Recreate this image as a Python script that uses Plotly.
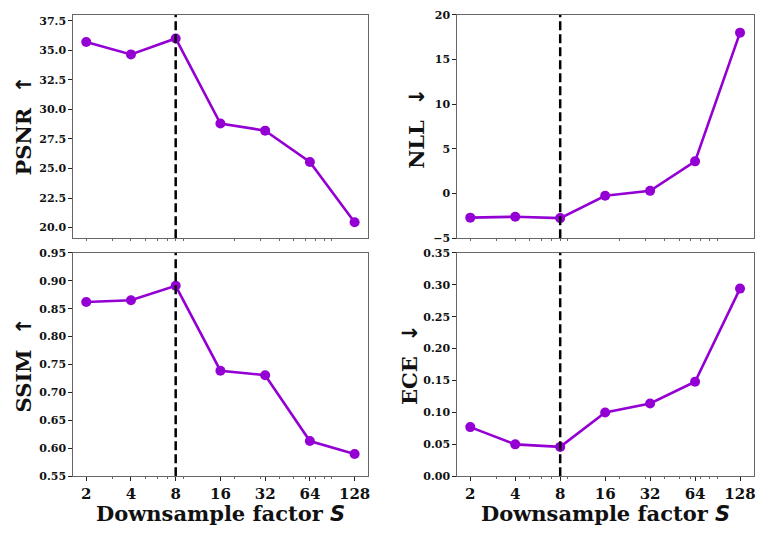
import plotly.graph_objects as go
from plotly.subplots import make_subplots
import math

# Downsample factors and metrics
factors = [2, 4, 8, 16, 32, 64, 128]
psnr = [35.7, 34.65, 36.0, 28.8, 28.2, 25.55, 20.45]
nll = [-2.7, -2.6, -2.75, -0.25, 0.3, 3.6, 18.0]
ssim = [0.862, 0.865, 0.891, 0.739, 0.731, 0.613, 0.590]
ece = [0.077, 0.050, 0.046, 0.100, 0.114, 0.148, 0.294]
chosen_factor = 8

x_tick_labels = ["2", "4", "8", "16", "32", "64", "128"]
minor_vals = [3, 5, 6, 7, 9, 20, 30, 40, 50, 60, 70, 80, 90]
top_tick_vals = [2, 3, 4, 5, 6, 7, 8, 9, 20, 30, 40, 50, 60, 70, 80, 90]

PURPLE = "#9400D3"
FRAME = "#666"
W, H = 759, 534
SERIF = "DejaVu Serif"

fig = make_subplots(rows=2, cols=2)

panels = [
    (1, 1, psnr, "PSNR", "↑", [19.1, 38.0], 2.5, ".1f"),
    (1, 2, nll, "NLL", "↓", [-5, 20], 5, "d"),
    (2, 1, ssim, "SSIM", "↑", [0.55, 0.95], 0.05, ".2f"),
    (2, 2, ece, "ECE", "↓", [0.0, 0.35], 0.05, ".2f"),
]

# pixel boxes of each panel: (left, right, top, bottom)
boxes = {
    (1, 1): (73, 369, 9, 238),
    (1, 2): (458, 755.5, 9, 238),
    (2, 1): (73, 369, 253, 482),
    (2, 2): (458, 755.5, 253, 482),
}

xlog_range = [0.7 * math.log10(2), 7.3 * math.log10(2)]

for r, c, vals, name, arrow, yr, dt, fmt in panels:
    fig.add_trace(
        go.Scatter(
            x=factors, y=vals, mode="lines+markers",
            line=dict(color=PURPLE, width=2.6),
            marker=dict(color=PURPLE, size=10),
            showlegend=False, cliponaxis=False,
        ),
        row=r, col=c,
    )
    fig.add_trace(
        go.Scatter(
            x=[chosen_factor, chosen_factor], y=yr, mode="lines",
            line=dict(color="black", width=2.5, dash="9px,4px"),
            showlegend=False, hoverinfo="skip",
        ),
        row=r, col=c,
    )
    l, rr, t, b = boxes[(r, c)]
    axis_common = dict(
        showline=True, linecolor=FRAME, linewidth=1, mirror=True,
        showgrid=False, zeroline=False,
    )
    if r == 1:
        fig.update_xaxes(
            type="log", range=xlog_range, domain=[l / W, rr / W],
            tickmode="array", tickvals=top_tick_vals, showticklabels=False,
            ticks="outside", ticklen=2, tickwidth=0.8, tickcolor=FRAME,
            **axis_common, row=r, col=c,
        )
    else:
        fig.update_xaxes(
            type="log", range=xlog_range, domain=[l / W, rr / W],
            tickmode="array", tickvals=factors, ticktext=x_tick_labels,
            ticks="outside", ticklen=3.5, tickwidth=1, tickcolor="#222",
            tickfont=dict(family=SERIF, size=15, color="#111", weight="bold"),
            minor=dict(tickmode="array", tickvals=minor_vals, ticks="outside",
                       ticklen=2, tickwidth=0.8, tickcolor=FRAME),
            **axis_common, row=r, col=c,
        )
    fig.update_yaxes(
        range=yr, domain=[(H - b) / H, (H - t) / H],
        tick0=0, dtick=dt, tickformat=fmt,
        ticks="outside", ticklen=3.5, tickwidth=1, tickcolor="#222",
        tickfont=dict(family=SERIF, size=11, color="#111", weight="bold"),
        **axis_common, row=r, col=c,
    )

# y-axis titles (metric name plus direction arrow)
ytitle_pos = {"PSNR": (24, 122.5), "NLL": (418, 125), "SSIM": (24, 367.5), "ECE": (410, 367)}
for _, _, _, name, arrow, _, _, _ in panels:
    px, py = ytitle_pos[name]
    fig.add_annotation(
        text=name + "\u00a0\u00a0"
        + '<span style="font-family:DejaVu Sans">' + arrow + "</span>",
        x=px / W, y=(H - py) / H, xref="paper", yref="paper",
        xanchor="center", yanchor="middle", textangle=-90, showarrow=False,
        font=dict(family=SERIF, size=21, color="#111", weight="bold"),
    )

# x-axis titles under the bottom row
for cx in [(73 + 369) / 2, (458 + 755.5) / 2]:
    fig.add_annotation(
        text='Downsample factor <span style="font-family:DejaVu Sans"><i>S</i></span>',
        x=cx / W, y=(H - 520) / H, xref="paper", yref="paper",
        xanchor="center", yanchor="middle", showarrow=False,
        font=dict(family=SERIF, size=21, color="#111", weight="bold"),
    )

fig.update_layout(
    width=W, height=H, autosize=False,
    margin=dict(l=0, r=0, t=0, b=0),
    paper_bgcolor="white", plot_bgcolor="white",
)

fig.write_html("out.html")
